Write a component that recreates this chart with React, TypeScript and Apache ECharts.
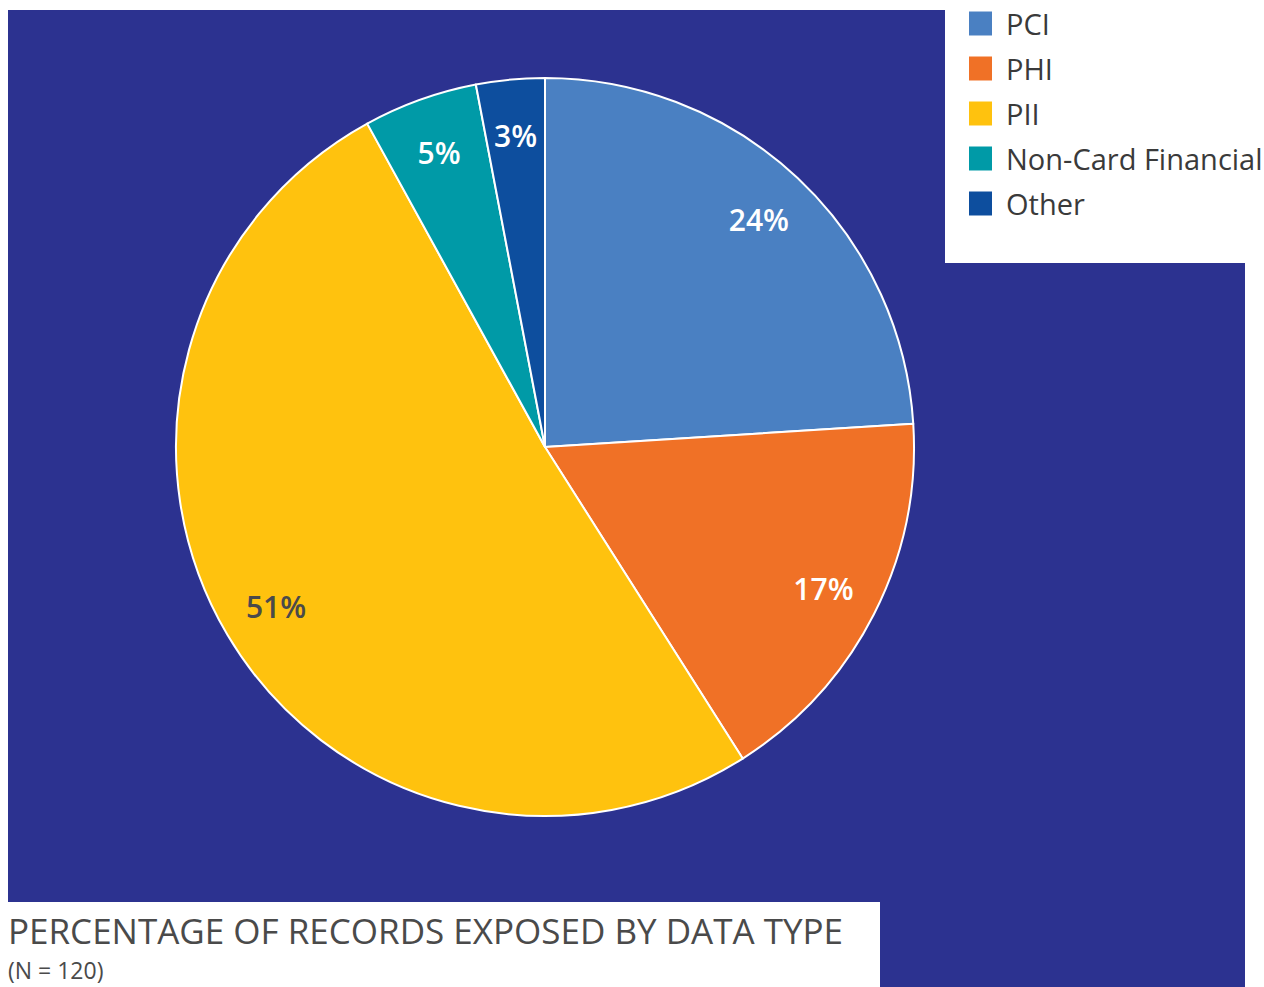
import React, { useEffect, useRef } from "react";
import * as echarts from "echarts";

const categories = ["PCI", "PHI", "PII", "Non-Card Financial", "Other"];
const values = [24, 17, 51, 5, 3];
const sliceColors = ["#4A80C2", "#F07126", "#FFC20E", "#009AA7", "#0D4E9E"];
const labelColors = ["#ffffff", "#ffffff", "#4a4a4a", "#ffffff", "#ffffff"];
const titleText = "PERCENTAGE OF RECORDS EXPOSED BY DATA TYPE";
const subtitleText = "(N = 120)";

const BG = "#2C3290";

export default function App() {
  const ref = useRef<HTMLDivElement>(null);

  useEffect(() => {
    if (!ref.current) return;
    const chart = echarts.init(ref.current, null, { renderer: "svg" });

    const pieData = categories.map((name, i) => ({
      name,
      value: values[i],
      itemStyle: { color: sliceColors[i] },
    }));
    const labelData = categories.map((name, i) => ({
      name,
      value: values[i],
      label: { color: labelColors[i] },
    }));

    chart.setOption({
      animation: false,
      backgroundColor: "#ffffff",
      graphic: [
        {
          type: "polygon",
          z: -10,
          silent: true,
          shape: {
            points: [
              [8, 10],
              [945, 10],
              [945, 263],
              [1245, 263],
              [1245, 987],
              [880, 987],
              [880, 902],
              [8, 902],
            ],
          },
          style: { fill: BG },
        },
        {
          type: "text",
          left: 8,
          top: 913,
          style: {
            text: titleText,
            fontFamily: "Open Sans",
            fontSize: 35,
            lineHeight: 34,
            fill: "#4a4a4a",
          },
        },
        {
          type: "text",
          left: 8,
          top: 957,
          style: {
            text: subtitleText,
            fontFamily: "Open Sans",
            fontSize: 23,
            lineHeight: 26,
            fill: "#4a4a4a",
          },
        },
      ],
      legend: {
        orient: "vertical",
        left: 967,
        top: 9,
        padding: 0,
        itemWidth: 25,
        itemHeight: 26,
        itemGap: 16,
        icon: "rect",
        data: categories,
        selectedMode: false,
        textStyle: {
          fontFamily: "Open Sans",
          fontSize: 29,
          color: "#3a3a3a",
          padding: [0, 0, 0, 8],
          lineHeight: 26,
        },
      },
      series: [
        {
          type: "pie",
          center: [545, 447],
          radius: 369,
          startAngle: 90,
          clockwise: true,
          silent: true,
          label: { show: false },
          labelLine: { show: false },
          emphasis: { disabled: true },
          itemStyle: { borderColor: "#ffffff", borderWidth: 2 },
          data: pieData,
        },
        {
          type: "pie",
          center: [545, 447],
          radius: [250, 369],
          startAngle: 90,
          clockwise: true,
          silent: true,
          legendHoverLink: false,
          emphasis: { disabled: true },
          itemStyle: { color: "rgba(0,0,0,0)", borderWidth: 0 },
          label: {
            show: true,
            position: "inside",
            formatter: "{c}%",
            fontFamily: "Open Sans",
            fontSize: 30,
            fontWeight: 600,
          },
          labelLine: { show: false },
          data: labelData,
        },
      ],
    });

    return () => chart.dispose();
  }, []);

  return (
    <div
      ref={ref}
      style={{ position: "fixed", left: 0, top: 0, width: 1264, height: 987 }}
    />
  );
}
